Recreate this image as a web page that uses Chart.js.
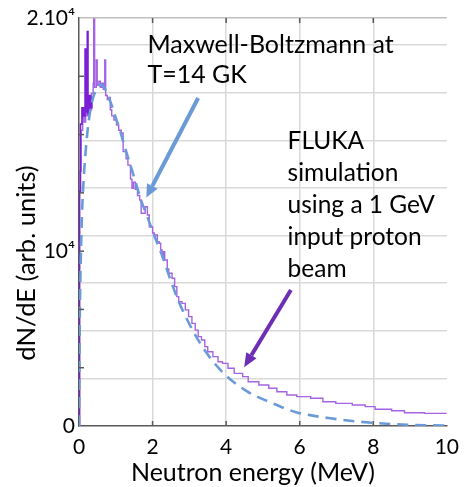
<!DOCTYPE html>
<html><head><meta charset="utf-8">
<script src="https://cdn.jsdelivr.net/npm/chart.js@4/dist/chart.umd.min.js"></script>
<style>html,body{margin:0;padding:0;background:#fff;}canvas{display:block;}</style>
</head><body>
<canvas id="c" width="468" height="487"></canvas>
<script>
// ---- Maxwell-Boltzmann curve (T = 14 GK) ----
const mbEnergy = [0, 0.02, 0.05, 0.08, 0.12, 0.16, 0.24, 0.33, 0.43, 0.52, 0.61, 0.70, 0.80, 0.91, 1.00, 1.09, 1.20, 1.36, 1.54, 1.70, 1.84, 2.00, 2.24, 2.50, 2.70, 3.00, 3.23, 3.50, 3.98, 4.57, 5.28, 5.90, 6.78, 7.95, 9.00, 10.0];
const mbValue  = [0, 5000, 8300, 10300, 11900, 13000, 14600, 15700, 16350, 16650, 16720, 16550, 16150, 15600, 15100, 14650, 13950, 13000, 11950, 11000, 10350, 9550, 8450, 7100, 6150, 5000, 4250, 3500, 2500, 1700, 1100, 680, 390, 160, 60, 25];

// ---- FLUKA histogram (bin left edges, values) ----
const flukaEnergy = [0, 0.02, 0.06, 0.10, 0.14, 0.18, 0.22, 0.26, 0.30, 0.34, 0.385, 0.40, 0.425, 0.47, 0.495, 0.54, 0.58, 0.62, 0.66, 0.70, 0.725, 0.77, 0.81, 0.85, 0.89, 0.95, 1.02, 1.08, 1.15, 1.20, 1.28, 1.33, 1.40, 1.44, 1.48, 1.53, 1.59, 1.65, 1.69, 1.80, 1.86, 1.91, 2.00, 2.05, 2.13, 2.18, 2.22, 2.26, 2.30, 2.33, 2.40, 2.44, 2.53, 2.60, 2.66, 2.71, 2.80, 2.89, 2.98, 3.07, 3.16, 3.24, 3.33, 3.42, 3.50, 3.64, 3.78, 3.90, 4.05, 4.22, 4.45, 4.60, 4.89, 5.16, 5.38, 5.65, 5.92, 6.30, 6.63, 6.98, 7.43, 7.78, 8.05, 8.50, 8.85, 9.39];
const flukaValue  = [0, 12500, 14500, 15300, 14900, 15800, 15200, 15900, 15500, 16300, 16800, 19950, 16600, 17940, 16700, 16900, 16600, 16800, 16500, 17940, 16200, 16000, 16100, 15500, 15200, 15000, 14750, 14500, 14360, 13450, 13100, 12790, 12100, 11650, 11950, 11600, 11300, 11080, 10430, 10750, 10340, 9770, 9460, 9360, 9035, 8960, 8630, 8300, 8540, 8137, 7700, 7485, 7240, 6830, 6340, 6093, 6010, 5690, 5360, 5030, 4700, 4380, 4215, 3890, 3640, 3400, 3150, 3070, 2830, 2580, 2420, 2170, 2010, 1850, 1680, 1520, 1440, 1360, 1190, 1110, 1030, 950, 820, 750, 650, 620];
// low-energy statistical spikes (darker trace)
const flukaLowEnergy = [0, 0.01, 0.04, 0.08, 0.12, 0.165, 0.185, 0.225, 0.245, 0.27, 0.31, 0.35];
const flukaLowValue  = [0, 11500, 14800, 15600, 15200, 18480, 15400, 19330, 15300, 16200, 15600, 16100];

// ---- axes ----
const xMin = 0, xMax = 10;
const xTickValues = [0, 2, 4, 6, 8, 10];
const xTickLabels = ['0', '2', '4', '6', '8', '10'];
const xTitle = 'Neutron energy (MeV)';
const yMin = 0, yMax = 20000;
const yTickValues = [0, 8571, 20000];
const yTickLabels = ['0', '10\u2074', '2.10\u2074'];
const yTitle = 'dN/dE (arb. units)';
const yGridValues = [2333, 4667, 7000, 9333, 11667, 14000, 16333, 18667, 20000];
const yMarkValues = [2857, 5714, 8571, 11429, 14286, 17143];
const xMarkValues = [2, 4, 6, 8];

// ---- annotations (data coordinates) ----
const mbArrow = { from: [3.24, 16080], to: [1.83, 11200] };
const flukaArrow = { from: [5.76, 6667], to: [4.49, 2880] };
const mbText = ['Maxwell-Boltzmann at', 'T=14 GK'];
const mbTextAt = [1.86, 18285];
const flukaText = ['FLUKA', 'simulation', 'using a 1 GeV', 'input proton', 'beam'];
const flukaTextAt = [5.67, 13580];

const FONT = 'Lato, "Open Sans", sans-serif';
const toPts = (xs, ys, endX) => {
  const p = xs.map((e, i) => ({ x: e, y: ys[i] }));
  if (endX !== undefined) p.push({ x: endX, y: ys[ys.length - 1] });
  return p;
};

function drawArrow(ctx, x1, y1, x2, y2, color, w, hl, hw) {
  const a = Math.atan2(y2 - y1, x2 - x1);
  const bx = x2 - hl * Math.cos(a), by = y2 - hl * Math.sin(a);
  ctx.strokeStyle = color; ctx.fillStyle = color; ctx.lineWidth = w; ctx.lineCap = 'butt';
  ctx.beginPath(); ctx.moveTo(x1, y1); ctx.lineTo(bx, by); ctx.stroke();
  ctx.beginPath();
  ctx.moveTo(x2, y2);
  ctx.lineTo(bx + hw / 2 * Math.sin(a), by - hw / 2 * Math.cos(a));
  ctx.lineTo(bx - hw / 2 * Math.sin(a), by + hw / 2 * Math.cos(a));
  ctx.closePath(); ctx.fill();
}

const annot = {
  id: 'annot',
  afterDatasetsDraw(chart) {
    const { ctx, scales: { x, y } } = chart;
    ctx.save();
    ctx.strokeStyle = '#595959'; ctx.lineWidth = 1.5;
    yMarkValues.forEach(v => { const py = y.getPixelForValue(v); ctx.beginPath(); ctx.moveTo(x.left, py); ctx.lineTo(x.left + 5, py); ctx.stroke(); });
    xMarkValues.forEach(v => { const px = x.getPixelForValue(v); ctx.beginPath(); ctx.moveTo(px, y.bottom); ctx.lineTo(px, y.bottom - 5); ctx.moveTo(px, y.top); ctx.lineTo(px, y.top + 5); ctx.stroke(); });
    drawArrow(ctx, x.getPixelForValue(mbArrow.from[0]), y.getPixelForValue(mbArrow.from[1]), x.getPixelForValue(mbArrow.to[0]), y.getPixelForValue(mbArrow.to[1]), '#6b9bd7', 4, 13, 12);
    drawArrow(ctx, x.getPixelForValue(flukaArrow.from[0]), y.getPixelForValue(flukaArrow.from[1]), x.getPixelForValue(flukaArrow.to[0]), y.getPixelForValue(flukaArrow.to[1]), '#6c2eb4', 4, 14, 12);
    ctx.fillStyle = '#000'; ctx.textBaseline = 'alphabetic'; ctx.textAlign = 'left';
    ctx.font = '25px ' + FONT;
    mbText.forEach((t, i) => ctx.fillText(t, x.getPixelForValue(mbTextAt[0]), y.getPixelForValue(mbTextAt[1]) + i * 30));
    ctx.font = '24.5px ' + FONT;
    flukaText.forEach((t, i) => ctx.fillText(t, x.getPixelForValue(flukaTextAt[0]), y.getPixelForValue(flukaTextAt[1]) + i * 32));
    // axis titles
    ctx.font = '25px ' + FONT; ctx.textAlign = 'center';
    ctx.fillText(xTitle, (x.left + x.right) / 2 - 10, y.bottom + 55);
    ctx.translate(27, (y.top + y.bottom) / 2 + 41);
    ctx.rotate(-Math.PI / 2);
    ctx.font = '25.5px ' + FONT; ctx.textBaseline = 'middle';
    ctx.fillText(yTitle, 0, 0);
    ctx.restore();
  }
};

new Chart(document.getElementById('c'), {
  type: 'line',
  data: {
    datasets: [
      { label: 'Maxwell-Boltzmann', data: toPts(mbEnergy, mbValue), borderColor: '#6a9bd8', borderWidth: 2.6, borderDash: [11, 7], cubicInterpolationMode: 'monotone', pointRadius: 0, fill: false },
      { label: 'FLUKA low', data: toPts(flukaLowEnergy, flukaLowValue, 0.40), borderColor: '#7a1fd6', borderWidth: 1.6, stepped: 'before', pointRadius: 0, fill: false },
      { label: 'FLUKA', data: toPts(flukaEnergy, flukaValue, 10), borderColor: '#a463e4', borderWidth: 1.4, stepped: 'before', pointRadius: 0, fill: false }
    ]
  },
  options: {
    responsive: false, animation: false, devicePixelRatio: 1,
    layout: { padding: { top: 18, right: 15, left: 0, bottom: 0 } },
    plugins: { legend: { display: false }, tooltip: { enabled: false } },
    scales: {
      x: {
        type: 'linear', min: xMin, max: xMax,
        afterBuildTicks: s => { s.ticks = xTickValues.map(v => ({ value: v })); },
        afterFit: s => { s.height = 61; },
        ticks: { callback: (v, i) => xTickLabels[i], color: '#000', font: { family: FONT, size: 21 }, padding: 9, maxRotation: 0, autoSkip: false },
        grid: { color: c => (c.tick && c.tick.value > xMin && c.tick.value < xMax) ? '#d9d9d9' : 'rgba(0,0,0,0)', lineWidth: 1.5, drawTicks: false },
        border: { color: '#595959', width: 1.5 },
        title: { display: false }
      },
      y: {
        type: 'linear', min: yMin, max: yMax,
        afterBuildTicks: s => {
          const all = [...yTickValues, ...yGridValues].filter((v, i, a) => a.indexOf(v) === i).sort((a, b) => a - b);
          s.ticks = all.map(v => ({ value: v }));
        },
        afterFit: s => { s.width = 79; },
        ticks: { callback: v => { const k = yTickValues.indexOf(v); return k >= 0 ? yTickLabels[k] : ''; }, color: '#000', font: { family: FONT, size: 21 }, padding: 4, autoSkip: false },
        grid: { color: c => !c.tick ? 'rgba(0,0,0,0)' : (c.tick.value === yMax ? '#bfbfbf' : (yGridValues.indexOf(c.tick.value) >= 0 ? '#d9d9d9' : 'rgba(0,0,0,0)')), lineWidth: 1.5, drawTicks: false },
        border: { color: '#595959', width: 1.5 },
        title: { display: false }
      }
    }
  },
  plugins: [annot]
});
</script>
</body></html>
